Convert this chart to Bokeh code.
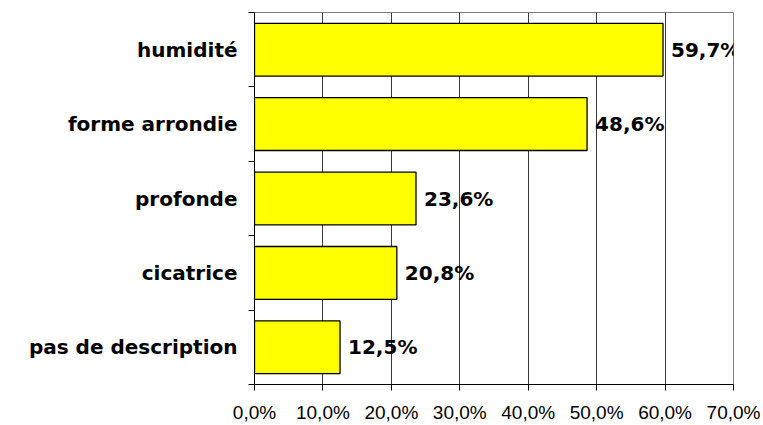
from bokeh.plotting import figure
from bokeh.models import ColumnDataSource, FixedTicker, Range1d, Label
from bokeh.embed import file_html
from bokeh.resources import INLINE

# ---- data ----
categories = ["humidité", "forme arrondie", "profonde", "cicatrice", "pas de description"]
percentages = [59.7, 48.6, 23.6, 20.8, 12.5]
x_ticks = [0, 10, 20, 30, 40, 50, 60, 70]
x_tick_labels = ["0,0%", "10,0%", "20,0%", "30,0%", "40,0%", "50,0%", "60,0%", "70,0%"]

positions = list(range(1, len(categories) + 1))
value_labels = [("%.1f" % v).replace(".", ",") + "%" for v in percentages]

src = ColumnDataSource(dict(y=positions, v=percentages, lab=value_labels))

W, H = 763, 425
p = figure(width=W, height=H, output_backend="svg", toolbar_location=None,
           x_range=Range1d(0, 70), y_range=Range1d(len(categories) + 0.5, 0.5),
           min_border_left=254, min_border_right=W - 733,
           min_border_top=12, min_border_bottom=H - 385)

p.background_fill_color = "white"
p.border_fill_color = "white"
p.outline_line_color = "#808080"
p.outline_line_width = 1

p.hbar(y="y", right="v", left=0, height=0.71, source=src,
       fill_color="#FFFF00", line_color="black", line_width=1.3)

# value labels (annotations, so they may run past the plot frame)
for pos, v, lab in zip(positions, percentages, value_labels):
    p.add_layout(Label(x=v, y=pos, text=lab, x_offset=8,
                       text_align="left", text_baseline="middle",
                       text_font="DejaVu Sans", text_font_style="bold",
                       text_font_size="20px", text_color="black"))

# x axis
p.xaxis.ticker = FixedTicker(ticks=x_ticks)
p.xaxis.major_label_overrides = {t: l for t, l in zip(x_ticks, x_tick_labels)}
p.xaxis.major_tick_out = 6
p.xaxis.major_tick_in = 0
p.xaxis.minor_tick_out = 0
p.xaxis.minor_tick_in = 0
p.xaxis.axis_line_color = "black"
p.xaxis.major_tick_line_color = "black"
p.xaxis.major_label_standoff = 11
p.xaxis.major_label_text_font = "Liberation Sans"
p.xaxis.major_label_text_font_size = "19px"
p.xaxis.major_label_text_color = "black"

# y axis: labels at category centres, ticks at band boundaries
p.yaxis.ticker = FixedTicker(ticks=positions,
                             minor_ticks=[i + 0.5 for i in range(0, len(categories) + 1)])
p.yaxis.major_label_overrides = {t: c for t, c in zip(positions, categories)}
p.yaxis.major_tick_out = 0
p.yaxis.major_tick_in = 0
p.yaxis.minor_tick_out = 6
p.yaxis.minor_tick_in = 0
p.yaxis.minor_tick_line_color = "black"
p.yaxis.axis_line_color = "black"
p.yaxis.major_label_standoff = 11
p.yaxis.major_label_text_font = "DejaVu Sans"
p.yaxis.major_label_text_font_style = "bold"
p.yaxis.major_label_text_font_size = "20px"
p.yaxis.major_label_text_color = "black"

# grid
p.xgrid.ticker = FixedTicker(ticks=x_ticks)
p.xgrid.grid_line_color = "#3a3a3a"
p.xgrid.grid_line_width = 1
p.ygrid.grid_line_color = None

open("out.html", "w").write(file_html(p, INLINE))
